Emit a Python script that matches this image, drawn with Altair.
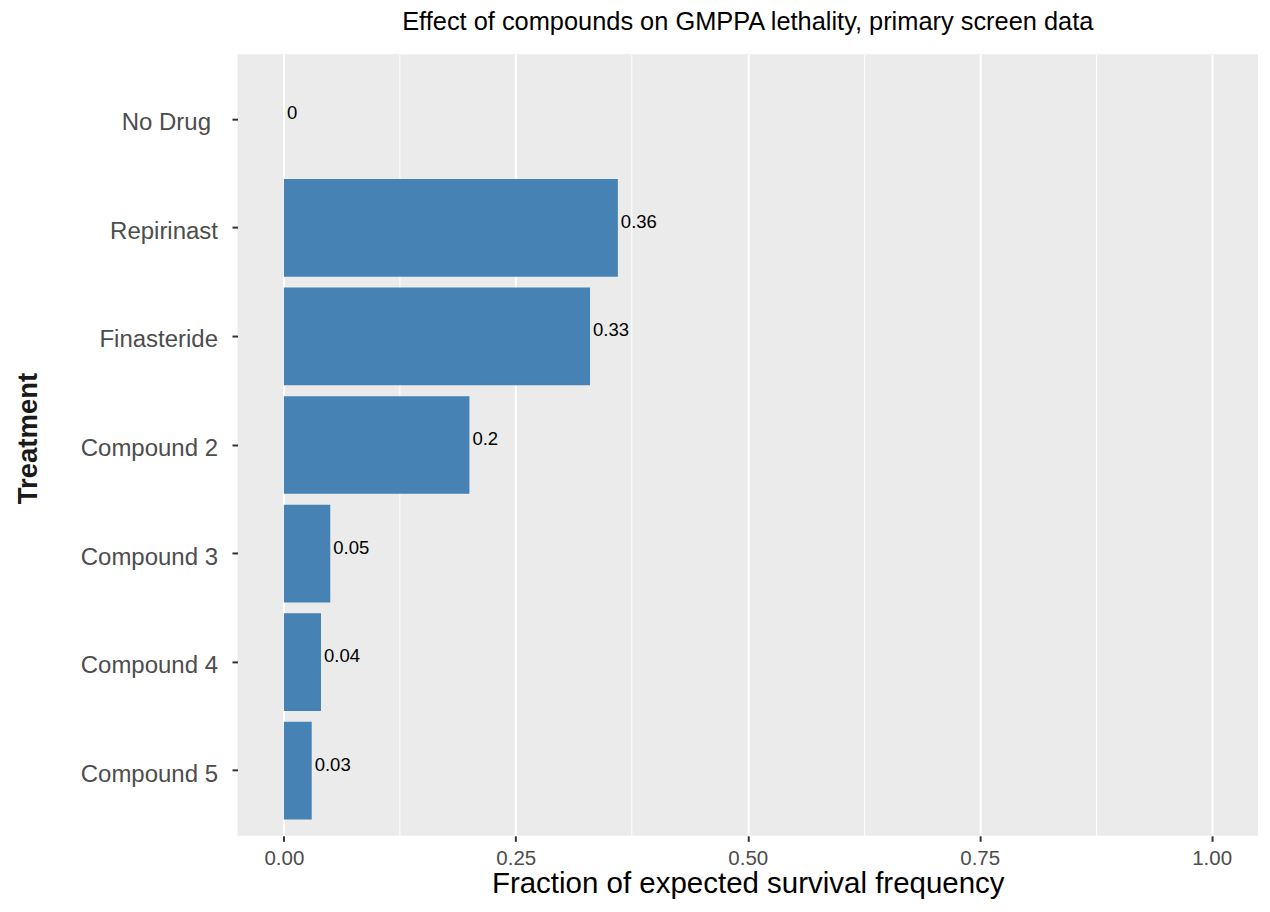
import altair as alt
import pandas as pd

# ---- data ----
treatments = ["No Drug", "Repirinast", "Finasteride", "Compound 2",
              "Compound 3", "Compound 4", "Compound 5"]
fractions = [0.0, 0.36, 0.33, 0.20, 0.05, 0.04, 0.03]
value_labels = ["0", "0.36", "0.33", "0.2", "0.05", "0.04", "0.03"]
x_major = [0.0, 0.25, 0.5, 0.75, 1.0]
x_minor = [0.125, 0.375, 0.625, 0.875]

df = pd.DataFrame({"Treatment": treatments, "Fraction": fractions, "Label": value_labels})

FONT = "Liberation Sans"
x_values = sorted(x_major + x_minor)
major_test = "datum.value * 4 == floor(datum.value * 4)"

x_scale = alt.Scale(domain=[-0.05, 1.05], nice=False, zero=False)
y_scale = alt.Scale(paddingInner=0.1, paddingOuter=0.15)

x_axis = alt.Axis(
    title="Fraction of expected survival frequency",
    values=x_values,
    labelExpr=f"({major_test}) ? format(datum.value, '.2f') : ''",
    gridColor="white",
    gridWidth={"condition": {"test": major_test, "value": 2}, "value": 1},
    tickOpacity={"condition": {"test": major_test, "value": 1}, "value": 0},
    tickSize=5.5, tickWidth=2, tickColor="#333333",
    labelFontSize=20.5, labelColor="#4d4d4d", labelPadding=7, labelFont=FONT,
    labelOverlap=False, labelFlush=False,
    titleFontSize=29.5, titleFont=FONT, titleFontWeight="normal", titleColor="black",
    titleY=57, titleBaseline="alphabetic",
    domain=False,
)

y_axis = alt.Axis(
    title="Treatment",
    titleFontSize=27.5, titleFont=FONT, titleFontWeight="bold", titleColor="#1a1a1a",
    titleX=-200.6, titleY=384, titleBaseline="alphabetic",
    labelFontSize=24, labelColor="#4d4d4d", labelFont=FONT,
    labelPadding={"condition": {"test": "datum.value == 'No Drug'", "value": 21.5},
                  "value": 14.5},
    labelBaseline="middle", labelOffset=4,
    tickSize=5.5, tickWidth=2, tickColor="#333333",
    gridColor="white", gridWidth=2,
    bandPosition=0.5,
    domain=False,
)

base = alt.Chart(df)

bars = base.mark_bar(color="#4682B4").encode(
    x=alt.X("Fraction:Q", scale=x_scale, axis=x_axis),
    y=alt.Y("Treatment:N", sort=treatments, scale=y_scale, axis=y_axis),
)

texts = base.mark_text(align="left", baseline="alphabetic", dx=3, fontSize=18.5,
                       font=FONT, color="black").encode(
    x=alt.X("Fraction:Q", scale=x_scale),
    y=alt.Y("Treatment:N", sort=treatments, scale=y_scale),
    text="Label:N",
)

chart = alt.layer(bars, texts).properties(
    width=1021,
    height=782,
    title=alt.Title("Effect of compounds on GMPPA lethality, primary screen data",
                    fontSize=25.4, font=FONT, fontWeight="normal", color="black",
                    anchor="middle", baseline="alphabetic", offset=22.5, dy=24),
    autosize=alt.AutoSizeParams(type="none"),
    padding={"left": 229.6, "top": 46, "right": 4, "bottom": 68},
).configure_view(fill="#EBEBEB", strokeWidth=0)

chart.save("out.html", embed_options={"renderer": "svg", "actions": False})
